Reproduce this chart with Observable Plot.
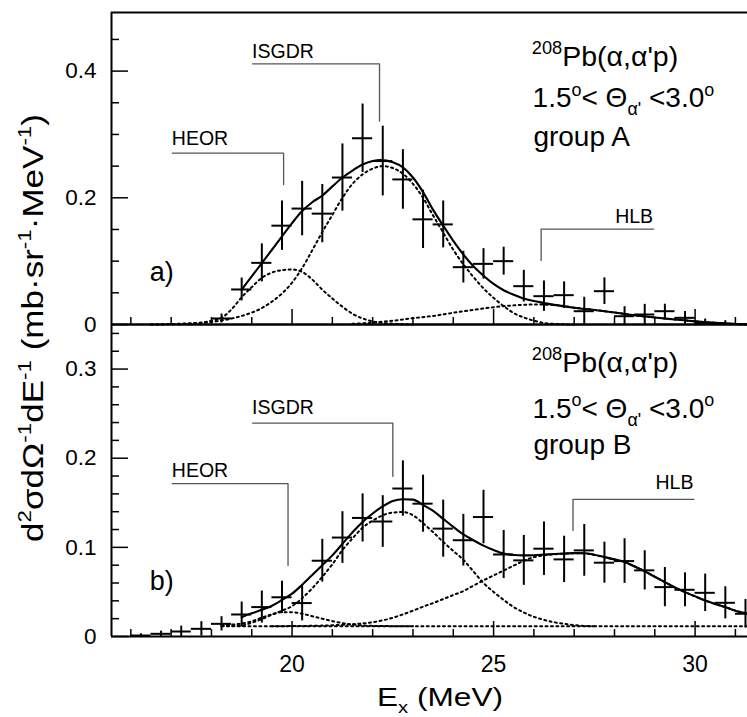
<!DOCTYPE html>
<html><head><meta charset="utf-8">
<script src="https://cdn.jsdelivr.net/npm/d3@7"></script>
<script src="https://cdn.jsdelivr.net/npm/@observablehq/plot@0.6"></script>
<style>
body{margin:0;background:#fff;}
#wrap{position:relative;width:747px;height:717px;overflow:hidden;background:#fff;}
#wrap svg{position:absolute;left:0;}
</style></head><body><div id="wrap"></div>
<script>
// ---------- data ----------
// group A measured points: excitation energy (MeV), cross section, error
const energyA = [18.25,18.75,19.25,19.75,20.25,20.75,21.25,21.75,22.25,22.75,23.25,23.75,24.25,24.75,25.25,25.75,26.25,26.75,27.25,27.75,28.25,28.75,29.25,29.75,30.25,30.75];
const valueA  = [0.0095,0.0553,0.0973,0.156,0.183,0.175,0.232,0.294,0.258,0.229,0.166,0.158,0.0905,0.0957,0.100,0.0605,0.0447,0.0463,0.021,0.0526,0.0131,0.0158,0.021,0.0105,0.0026,0.001];
const errorA  = [0.007,0.018,0.030,0.039,0.043,0.046,0.053,0.054,0.055,0.047,0.046,0.037,0.025,0.024,0.022,0.025,0.024,0.021,0.022,0.021,0.015,0.016,0.011,0.010,0.006,0.005];
// group B measured points
const energyB = [16.25,16.75,17.25,17.75,18.25,18.75,19.25,19.75,20.25,20.75,21.25,21.75,22.25,22.75,23.25,23.75,24.25,24.75,25.25,25.75,26.25,26.75,27.25,27.75,28.25,28.75,29.25,29.75,30.25,30.75,31.25];
const valueB  = [0.0011,0.003,0.0056,0.0086,0.0142,0.0247,0.033,0.044,0.0375,0.085,0.111,0.133,0.129,0.166,0.149,0.121,0.108,0.134,0.092,0.0854,0.0985,0.0865,0.0966,0.0828,0.0846,0.0742,0.0554,0.0524,0.049,0.0378,0.0255];
const errorB  = [0.002,0.003,0.006,0.008,0.008,0.014,0.018,0.018,0.020,0.024,0.029,0.027,0.029,0.031,0.032,0.032,0.029,0.030,0.027,0.028,0.030,0.026,0.029,0.023,0.025,0.022,0.022,0.019,0.021,0.018,0.016];
const binHalfWidth = 0.25;

// fitted curves, group A  [E, value]
const totalA = [[18.75,0.055],[19.0,0.076],[19.25,0.097],[19.5,0.118],[19.75,0.139],[20.0,0.16],[20.25,0.179],[20.5,0.193],[20.75,0.2035],[21.0,0.218],[21.25,0.232],[21.5,0.243],[21.75,0.2526],[22.0,0.258],[22.2,0.2595],[22.5,0.256],[22.75,0.248],[23.0,0.232],[23.25,0.209],[23.5,0.181],[23.75,0.156],[24.0,0.132],[24.25,0.1105],[24.5,0.092],[24.75,0.077],[25.0,0.064],[25.25,0.054],[25.5,0.047],[25.75,0.041],[26.0,0.037],[26.25,0.034],[26.5,0.031],[27.0,0.0265],[27.5,0.023],[28.0,0.019],[28.5,0.0145],[29.0,0.011],[29.5,0.008],[30.0,0.005],[30.5,0.0025],[31.0,0.0008],[31.3,0.0002]];
const heorA = [[16.5,0],[17.0,0.0008],[17.5,0.002],[17.75,0.003],[18.0,0.006],[18.25,0.0105],[18.5,0.024],[18.75,0.043],[19.0,0.059],[19.25,0.0736],[19.5,0.082],[19.75,0.0857],[20.0,0.0868],[20.25,0.083],[20.5,0.071],[20.75,0.055],[21.0,0.041],[21.25,0.028],[21.5,0.017],[21.75,0.0095],[22.0,0.005],[22.5,0.0012],[23.0,0]];
const isgdrA = [[16.5,0],[17.5,0.001],[18.0,0.004],[18.25,0.0063],[18.75,0.0135],[19.25,0.026],[19.75,0.049],[20.0,0.066],[20.25,0.089],[20.5,0.117],[20.75,0.146],[21.0,0.173],[21.25,0.2],[21.5,0.222],[21.75,0.237],[22.0,0.246],[22.25,0.25],[22.5,0.247],[22.75,0.238],[23.0,0.222],[23.25,0.2],[23.5,0.172],[23.75,0.145],[24.0,0.118],[24.25,0.095],[24.5,0.075],[24.75,0.057],[25.0,0.042],[25.25,0.029],[25.5,0.018],[25.75,0.011],[26.0,0.006],[26.25,0.0025],[26.5,0.001],[27.0,0]];
const hlbA = [[21.5,0.001],[22.0,0.003],[22.5,0.006],[23.0,0.01],[23.5,0.0135],[24.0,0.0185],[24.5,0.023],[25.0,0.0273],[25.5,0.0302],[26.0,0.0315],[26.5,0.031],[27.0,0.0265],[27.5,0.023],[28.0,0.019],[28.5,0.0145],[29.0,0.011],[29.5,0.008],[30.0,0.005],[30.5,0.0025],[31.0,0.0008],[31.3,0.0002]];

// fitted curves, group B  [E, value]
const totalB = [[18.75,0.0217],[19.0,0.026],[19.25,0.03],[19.5,0.0345],[19.75,0.041],[20.0,0.048],[20.25,0.058],[20.5,0.069],[20.75,0.08],[21.0,0.091],[21.25,0.104],[21.5,0.117],[21.75,0.1285],[22.0,0.138],[22.25,0.146],[22.5,0.152],[22.75,0.154],[23.0,0.1535],[23.25,0.1475],[23.5,0.141],[23.75,0.132],[24.0,0.123],[24.25,0.1145],[24.5,0.108],[24.75,0.102],[25.0,0.097],[25.25,0.093],[25.5,0.0915],[25.75,0.091],[26.0,0.0912],[26.25,0.0918],[26.5,0.0925],[26.75,0.093],[27.0,0.0935],[27.25,0.0934],[27.5,0.0918],[27.75,0.0892],[28.0,0.0865],[28.25,0.0835],[28.5,0.0785],[28.75,0.073],[29.0,0.067],[29.25,0.061],[29.5,0.055],[29.75,0.0498],[30.0,0.045],[30.25,0.0404],[30.5,0.0365],[30.75,0.033],[31.0,0.029],[31.3,0.0255]];
const heorB = [[18.25,0.0125],[18.5,0.0133],[18.75,0.0145],[19.0,0.017],[19.25,0.0212],[19.5,0.0248],[19.75,0.0272],[20.0,0.0272],[20.25,0.0255],[20.5,0.0228],[20.75,0.02],[21.0,0.0172],[21.25,0.015],[21.5,0.0134],[21.75,0.0124],[22.0,0.0119],[22.5,0.0116],[23.0,0.0115]];
const isgdrB = [[18.25,0.0117],[18.75,0.0124],[19.0,0.0155],[19.25,0.0195],[19.5,0.0245],[19.75,0.029],[20.0,0.034],[20.25,0.043],[20.5,0.054],[20.75,0.067],[21.0,0.081],[21.25,0.097],[21.5,0.11],[21.75,0.122],[22.0,0.13],[22.25,0.136],[22.5,0.139],[22.75,0.1397],[23.0,0.136],[23.25,0.127],[23.5,0.117],[23.75,0.106],[24.0,0.096],[24.25,0.086],[24.5,0.073],[24.75,0.06],[25.0,0.05],[25.25,0.041],[25.5,0.033],[25.75,0.027],[26.0,0.022],[26.25,0.0187],[26.5,0.016],[26.75,0.0142],[27.0,0.0128],[27.25,0.0118],[27.5,0.0115]];
const hlbB = [[19.5,0.0115],[20.0,0.0117],[20.5,0.012],[21.0,0.0126],[21.5,0.0138],[22.0,0.016],[22.5,0.021],[22.75,0.0248],[23.0,0.029],[23.25,0.0335],[23.5,0.0375],[23.75,0.042],[24.0,0.0465],[24.25,0.051],[24.5,0.057],[24.75,0.063],[25.0,0.0685],[25.25,0.074],[25.5,0.0795],[25.75,0.085],[26.0,0.089],[26.25,0.091],[26.5,0.0922],[26.75,0.0929],[27.0,0.0934],[27.25,0.0932],[27.5,0.0915],[27.75,0.089],[28.0,0.0862],[28.25,0.0835],[28.5,0.0785],[28.75,0.0735],[29.0,0.067],[29.25,0.061],[29.5,0.055],[29.75,0.0498],[30.0,0.045],[30.25,0.0404],[30.5,0.0365],[30.75,0.033],[31.0,0.029],[31.3,0.0255]];
const backgroundB = [[18.25,0.0115],[31.3,0.0115]];

// axes
const xDomain = [15.52, 31.30];
const xTicksMajor = [20, 25, 30];
const xTicksMinor = [16,17,18,19,21,22,23,24,26,27,28,29,31];
const yDomainA = [0, 0.4925];
const yTicksMajorA = [0, 0.2, 0.4];
const yTicksMinorA = [0.05,0.1,0.15,0.25,0.3,0.35,0.45];
const yDomainB = [0, 0.35];
const yTicksMajorB = [0, 0.1, 0.2, 0.3];
const yTicksMinorB = [0.02,0.04,0.06,0.08,0.12,0.14,0.16,0.18,0.22,0.24,0.26,0.28,0.32,0.34];

// annotation brackets (data coordinates)
const bracketsA = {
  HEOR:  [[17.03,0.2704],[19.79,0.2704],[19.79,0.221]],
  ISGDR: [[19.02,0.4115],[22.17,0.4115],[22.17,0.321]],
  HLB:   [[26.18,0.101],[26.18,0.1504],[28.97,0.1504]]
};
const bracketsB = {
  HEOR:  [[17.03,0.1714],[19.9,0.1714],[19.9,0.0797]],
  ISGDR: [[19.02,0.2394],[22.5,0.2394],[22.5,0.1796]],
  HLB:   [[26.97,0.119],[26.97,0.1538],[29.97,0.1538]]
};
const textA = {reaction:[25.96,0.407], angle:[25.98,0.342], group:[26.0,0.281], panel:[16.48,0.068],
  HEOR:[17.03,0.283], ISGDR:[19.02,0.42], HLB:[28.97,0.1594]};
const textB = {reaction:[25.96,0.2966], angle:[25.98,0.2443], group:[26.0,0.204], panel:[16.48,0.0516],
  HEOR:[17.03,0.1788], ISGDR:[19.02,0.249], HLB:[29.97,0.165]};

// ---------- drawing ----------
const FONT = "'Liberation Sans', Arial, Helvetica, sans-serif";
const W = 747, ML = 111, PW = W - ML, PH = 312;
const wrap = document.getElementById("wrap");

function rich(svg, x, y, parts, size, {anchor = "start", transform = null, length = null} = {}) {
  const t = d3.select(svg).append("text")
    .attr("x", x).attr("y", y).attr("font-size", size)
    .attr("font-family", FONT).attr("fill", "black").attr("text-anchor", anchor);
  if (transform) t.attr("transform", transform);
  if (length) t.attr("textLength", length).attr("lengthAdjust", "spacingAndGlyphs");
  let shift = 0;
  for (const p of parts) {
    const s = t.append("tspan").text(p.t);
    let target = 0, fs = size;
    if (p.sup) { target = -0.42 * size; fs = size * 0.64; }
    if (p.sub) { target = 0.28 * size; fs = size * 0.64; }
    s.attr("dy", target - shift).attr("font-size", fs);
    shift = target;
  }
  return t;
}

function panel({energy, value, error, total, comps, yDomain, yMaj, yMin, brackets, text, group, top, mt, mb, xAxis}) {
  const data = energy.map((e, i) => ({e, v: value[i], d: error[i]}));
  const height = mt + PH + mb;
  const fmt = d => d === 0 ? "0" : String(d);
  const dotted = {stroke: "black", strokeWidth: 2, strokeDasharray: "2,3.4", curve: "monotone-x", x: d => d[0], y: d => d[1]};
  const marks = [
    ...comps.map(c => Plot.line(c, dotted)),
    Plot.line(total, {x: d => d[0], y: d => d[1], stroke: "black", strokeWidth: 2.1, curve: "monotone-x"}),
    Plot.ruleX(data, {x: "e", y1: d => Math.max(0, d.v - d.d), y2: d => d.v + d.d, stroke: "black", strokeWidth: 2}),
    Plot.ruleY(data, {y: "v", x1: d => d.e - binHalfWidth, x2: d => d.e + binHalfWidth, stroke: "black", strokeWidth: 2}),
    ...Object.values(brackets).map(b => Plot.line(b, {x: d => d[0], y: d => d[1], stroke: "#555", strokeWidth: 1.3})),
    Plot.tickY(yMaj, {y: d => d, insetRight: PW - 17, stroke: "black", strokeWidth: 1.5}),
    Plot.tickY(yMin, {y: d => d, insetRight: PW - 8, stroke: "black", strokeWidth: 1.5}),
    Plot.tickX(xTicksMajor, {x: d => d, insetTop: PH - 15, stroke: "black", strokeWidth: 1.5}),
    Plot.tickX(xTicksMinor, {x: d => d, insetTop: PH - 7, stroke: "black", strokeWidth: 1.5}),
    Plot.ruleX([xDomain[0]], {stroke: "black", strokeWidth: 2}),
    Plot.ruleY([yDomain[1]], {stroke: "black", strokeWidth: 2}),
    Plot.ruleY([0], {stroke: "black", strokeWidth: 2}),
    Plot.axisY({ticks: yMaj, tickSize: 0, tickPadding: 15, tickFormat: fmt, fontSize: 22.5, label: null})
  ];
  if (xAxis) marks.push(Plot.axisX({ticks: xTicksMajor, tickSize: 0, tickPadding: 19, fontSize: 23, label: null}));
  const plot = Plot.plot({
    width: W, height, marginLeft: ML, marginRight: 0, marginTop: mt, marginBottom: mb,
    style: {background: "transparent", fontFamily: FONT, overflow: "visible"},
    x: {domain: xDomain, axis: xAxis ? undefined : null},
    y: {domain: yDomain},
    marks
  });
  plot.style.top = top + "px";
  wrap.appendChild(plot);
  const sx = plot.scale("x"), sy = plot.scale("y");
  const P = ([a, b]) => [sx.apply(a), sy.apply(b)];
  let p;
  p = P(text.reaction); rich(plot, p[0], p[1], [{t: "208", sup: true}, {t: "Pb(α,α'p)"}], 28.5);
  p = P(text.angle); rich(plot, p[0], p[1], [{t: "1.5"}, {t: "o", sup: true}, {t: "< Θ"}, {t: "α'", sub: true}, {t: " <3.0"}, {t: "o", sup: true}], 28);
  p = P(text.group); rich(plot, p[0], p[1], [{t: group}], 28);
  p = P(text.panel); rich(plot, p[0], p[1], [{t: group === "group A" ? "a)" : "b)"}], 27);
  p = P(text.HEOR); rich(plot, p[0], p[1], [{t: "HEOR"}], 19.5);
  p = P(text.ISGDR); rich(plot, p[0], p[1], [{t: "ISGDR"}], 19.5);
  p = P(text.HLB); rich(plot, p[0], p[1], [{t: "HLB"}], 19.5, {anchor: "end"});
  return plot;
}

panel({energy: energyA, value: valueA, error: errorA, total: totalA, comps: [heorA, isgdrA, hlbA],
  yDomain: yDomainA, yMaj: yTicksMajorA, yMin: yTicksMinorA, brackets: bracketsA, text: textA,
  group: "group A", top: 0, mt: 12, mb: 21, xAxis: false});
panel({energy: energyB, value: valueB, error: errorB, total: totalB, comps: [backgroundB, heorB, isgdrB, hlbB],
  yDomain: yDomainB, yMaj: yTicksMajorB, yMin: yTicksMinorB, brackets: bracketsB, text: textB,
  group: "group B", top: 304, mt: 20, mb: 81, xAxis: true});

// axis titles
const ov = d3.select(wrap).append("svg").attr("width", W).attr("height", 717).style("top", "0px").style("pointer-events", "none").node();
rich(ov, 0, 0, [{t: "d"}, {t: "2", sup: true}, {t: "σdΩ"}, {t: "-1", sup: true}, {t: "dE"}, {t: "-1", sup: true},
  {t: " (mb·sr"}, {t: "-1", sup: true}, {t: "·MeV"}, {t: "-1", sup: true}, {t: ")"}], 29,
  {anchor: "middle", transform: "translate(43,328) rotate(-90)", length: 428});
rich(ov, 440, 706, [{t: "E"}, {t: "x", sub: true}, {t: " (MeV)"}], 26.5, {anchor: "middle", length: 126});
</script></body></html>
